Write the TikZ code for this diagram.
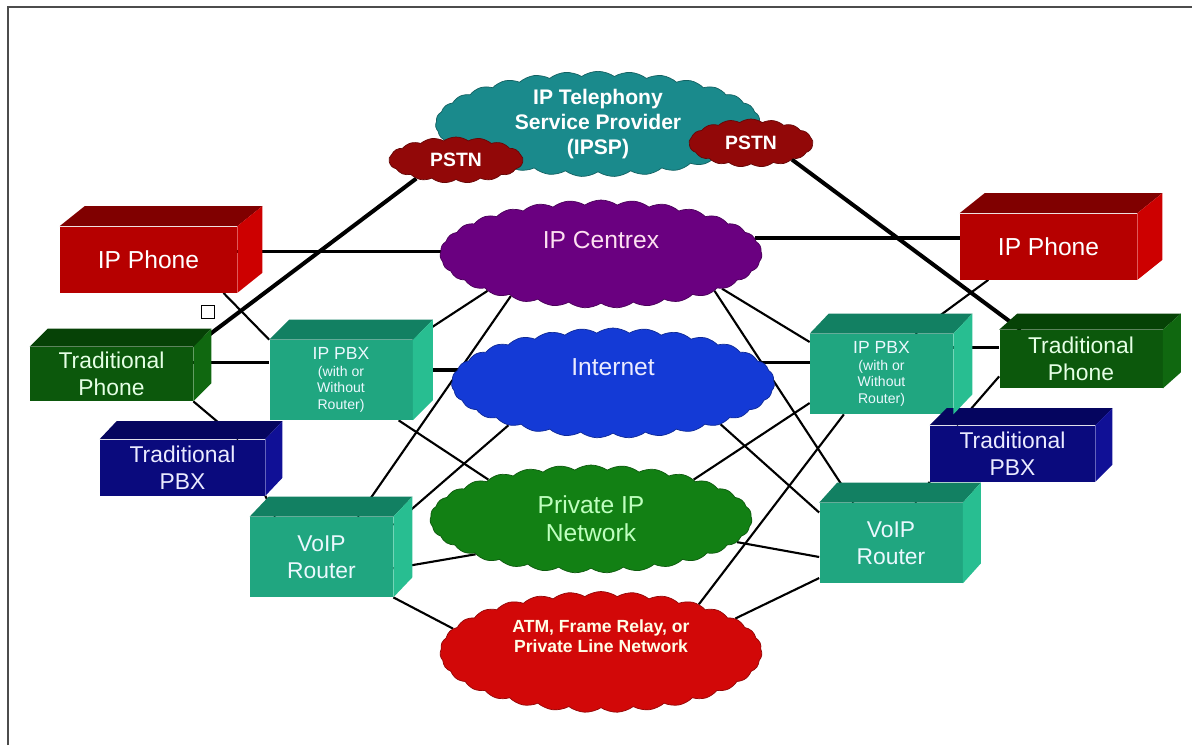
\documentclass[tikz,border=0pt]{standalone}
\usepackage{fontspec}
\setmainfont{Liberation Sans}
\usetikzlibrary{shapes.symbols, calc}
\usepackage{xcolor}

\definecolor{phnF}{RGB}{182,0,0}
\definecolor{phnT}{RGB}{128,0,0}
\definecolor{phnS}{RGB}{205,0,0}
\definecolor{tphF}{RGB}{12,88,12}
\definecolor{tphT}{RGB}{6,66,6}
\definecolor{tphS}{RGB}{16,104,16}
\definecolor{pbxF}{RGB}{10,10,125}
\definecolor{pbxT}{RGB}{5,5,95}
\definecolor{pbxS}{RGB}{16,16,150}
\definecolor{tlF}{RGB}{32,166,128}
\definecolor{tlT}{RGB}{18,128,98}
\definecolor{tlS}{RGB}{40,190,145}
\definecolor{spC}{RGB}{26,138,140}
\definecolor{psC}{RGB}{146,8,8}
\definecolor{ctxC}{RGB}{106,0,128}
\definecolor{netC}{RGB}{20,58,214}
\definecolor{pipC}{RGB}{18,128,20}
\definecolor{atmC}{RGB}{210,8,8}

\newcommand{\px}{0.02cm}
\pgfdeclarelayer{bg}
\pgfsetlayers{bg,main}

\begin{document}
\begin{tikzpicture}[
    x=0.02cm, y=-0.02cm,
    box/.style={rectangle, inner sep=0pt, align=center, font=\fontsize{13}{15.5}\selectfont},
    ipphone/.style={box, fill=phnF, text=white, font=\fontsize{14}{16}\selectfont, minimum width=177*\px, minimum height=66*\px},
    tphone/.style={box, fill=tphF, text=green!10, minimum width=163*\px, minimum height=54*\px},
    tpbx/.style={box, fill=pbxF, text=blue!8, minimum width=165*\px, minimum height=56*\px},
    teal/.style={box, fill=tlF, text=cyan!8, minimum width=143*\px, minimum height=80*\px},
    net/.style={cloud, cloud puffs=31, cloud puff arc=70, cloud ignores aspect, inner sep=0pt, align=center, font=\fontsize{14}{16}\selectfont},
    pstn/.style={net, cloud puffs=17, fill=psC, draw=psC!70!black, text=white, font=\bfseries\fontsize{11}{13}\selectfont, minimum width=134*\px, minimum height=46*\px},
    link/.style={line width=1.2pt},
    trunk/.style={line width=2pt}
]
    \useasboundingbox (0,0) rectangle (1192,745);
    \draw[gray!60!black, line width=0.6pt] (8,745) -- (8,7) -- (1192,7);

    \node[net, fill=spC, draw=spC!70!black, text=white, font=\bfseries\fontsize{12}{14.2}\selectfont, minimum width=325*\px, minimum height=100*\px] (ipsp) at (598,124) {IP Telephony\\Service Provider\\(IPSP)};
    \node[pstn] (pstnL) at (456,160) {PSTN};
    \node[pstn, minimum width=124*\px, minimum height=48*\px] (pstnR) at (751,143) {PSTN};
    \node[net, fill=ctxC, draw=ctxC!70!black, text=magenta!12, text depth=16pt, minimum width=322*\px, minimum height=108*\px] (ctx) at (601,254) {IP Centrex};
    \node[net, fill=netC, draw=netC!70!black, text=blue!8, text depth=18pt, minimum width=323*\px, minimum height=110*\px] (inet) at (613,383) {Internet};
    \node[net, fill=pipC, draw=pipC!70!black, text=green!25, minimum width=322*\px, minimum height=108*\px] (pip) at (591,519) {Private IP\\Network};
    \node[net, fill=atmC, draw=atmC!70!black, text=yellow!10, font=\bfseries\fontsize{10}{11.5}\selectfont, text depth=18pt, minimum width=322*\px, minimum height=121*\px] (atm) at (601,652) {ATM, Frame Relay, or\\Private Line Network};

    \node[ipphone] (iphL) at (148.5,259.5) {IP Phone};
    \node[ipphone] (iphR) at (1048.5,246.5) {IP Phone};
    \node[tphone] (tphL) at (111.5,374) {Traditional\\Phone};
    \node[tphone, minimum height=58*\px] (tphR) at (1081,359) {Traditional\\Phone};
    \node[tpbx] (tpbxL) at (182.5,467.5) {Traditional\\PBX};
    \node[tpbx] (tpbxR) at (1012.5,453.5) {Traditional\\PBX};
    \node[teal, font=\fontsize{8}{9.5}\selectfont] (ippL) at (341,380) {{\fontsize{10}{10}\selectfont IP PBX}\\(with or\\Without\\Router)};
    \node[teal, font=\fontsize{8}{9.5}\selectfont] (ippR) at (881.5,374) {{\fontsize{10}{10}\selectfont IP PBX}\\(with or\\Without\\Router)};
    \node[teal] (vrL) at (321.5,557) {VoIP\\Router};
    \node[teal] (vrR) at (891,543) {VoIP\\Router};
    \node[draw, fill=white, line width=0.8pt, minimum size=13*\px, inner sep=0pt] (sq) at (208,312) {};

    \foreach \n/\c/\dx/\dy in {iphL/phn/25/20, iphR/phn/25/20, tphL/tph/18/18, tphR/tph/18/16,
        tpbxL/pbx/17/18, tpbxR/pbx/17/17, ippR/tl/19/20, ippL/tl/20/20, vrL/tl/19/20, vrR/tl/18/20}{
        \fill[fill=\c T] (\n.north west) -- ++(\dx,-\dy) -- ($(\n.north east)+(\dx,-\dy)$) -- (\n.north east) -- cycle;
        \fill[fill=\c S] (\n.north east) -- ++(\dx,-\dy) -- ($(\n.south east)+(\dx,-\dy)$) -- (\n.south east) -- cycle;
    }

    \begin{pgfonlayer}{bg}
    \draw[trunk] (iphL.5) -- (iphL.5 -| ctx.center);
    \draw[trunk] (ctx.6) -- (ctx.6 -| iphR.west);
    \draw[line width=2.3pt] (pstnL.205) -- (tphL.north east);
    \draw[line width=2.3pt] (pstnR.338) -- (tphR.154);
    \draw[link] (iphL.336) -- (ippL.north west);
    \draw[trunk] (tphL.8) -- (tphL.8 -| ippL.west);
    \draw[link] (tphL.south east) -- (tpbxL.27);
    \draw[link] (tpbxL.south east) -- (vrL.139);
    \draw[trunk] (ippL.8) -- (ippL.8 -| inet.center);
    \draw[link] (ippL.north east) -- (ctx.198);
    \draw[link] (vrL.48) -- (ctx.205);
    \draw[link] (vrL.24) -- (inet.202);
    \draw[link] (ippL.325) -- (pip.159);
    \draw[link] (vrL.351) -- (pip.197);
    \draw[link] (vrL.south east) -- (atm.171);
    \draw[link] (ctx.342) -- (vrR.133);
    \draw[link] (ctx.344) -- (ippR.156);
    \draw[trunk] (ippR.171) -- (ippR.171 -| inet.center);
    \draw[link] (inet.339) -- (vrR.157);
    \draw[link] (pip.21) -- (ippR.202);
    \draw[link] (pip.351) -- (vrR.191);
    \draw[link] (atm.26) -- (ippR.227);
    \draw[link] (atm.14) -- (vrR.206);
    \draw[trunk] (tphR.172) -- (tphR.172 -| ippR.center);
    \draw[link] (ippR.50) -- (iphR.209);
    \draw[link] (tpbxR.153) -- (tphR.192);
    \draw[link] (tpbxR.south west) -- (vrR.59);
    \end{pgfonlayer}
\end{tikzpicture}
\end{document}
